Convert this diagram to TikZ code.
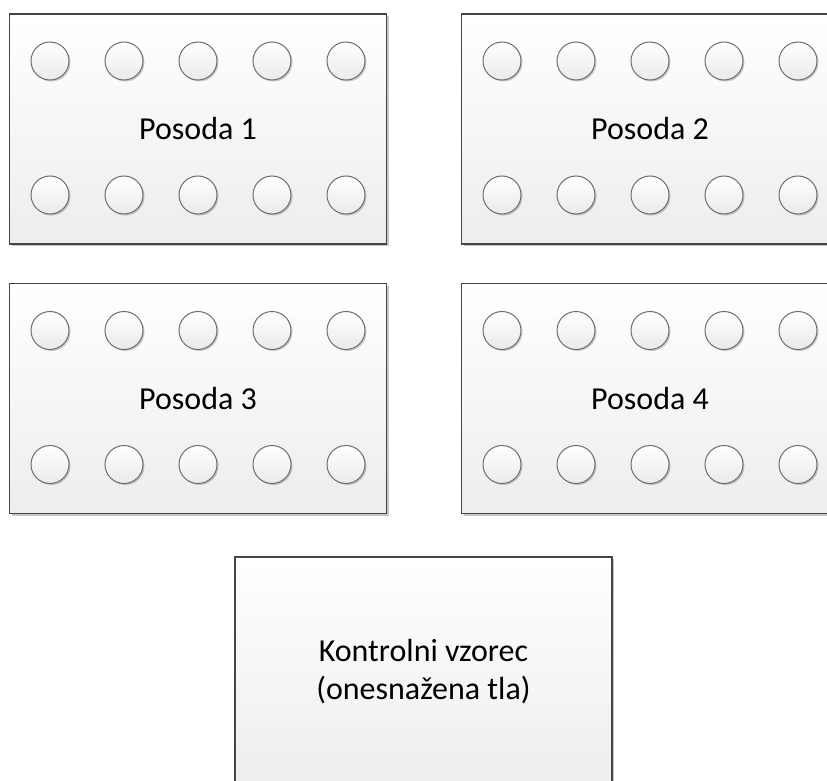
\documentclass[tikz,border=0pt]{standalone}
\usepackage{fontspec}
\setmainfont{Carlito}
\usetikzlibrary{shadows}
\definecolor{boxline}{HTML}{454545}
\definecolor{boxbot}{HTML}{EDEDED}
\definecolor{circline}{HTML}{6E6E6E}
\definecolor{circbot}{HTML}{EAEAEA}
\begin{document}
\begin{tikzpicture}[x=1pt,y=-1pt,
  vessel/.style={draw=boxline, line width=1.1pt, top color=white, bottom color=boxbot,
    minimum width=377pt, minimum height=230pt, inner sep=0pt,
    font=\fontsize{32}{38}\selectfont, align=center,
    drop shadow={shadow xshift=2pt, shadow yshift=-2pt, opacity=0.22, fill=black}},
  well/.style={circle, draw=circline, line width=1pt, top color=white, bottom color=circbot,
    minimum size=38pt, inner sep=0pt,
    drop shadow={shadow xshift=1.5pt, shadow yshift=-1.5pt, opacity=0.2, fill=black}}]
\clip (0,0) rectangle (827,781);
\fill[white] (0,0) rectangle (827,781);
\foreach \b/\cx/\cy in {1/198/129, 2/650/129, 3/198/398.5, 4/650/398.5}{
  \node[vessel] (p\b) at (\cx,\cy) {Posoda \b};
  \foreach \k in {1,...,5}{
    \node[well] (p\b t\k) at ({\cx-222+74*\k},{\cy-68}) {};
    \node[well] (p\b b\k) at ({\cx-222+74*\k},{\cy+66}) {};
  }
}
\node[vessel] (ctrl) at (423.5,672) {Kontrolni vzorec\\(onesnažena tla)};
\end{tikzpicture}
\end{document}
